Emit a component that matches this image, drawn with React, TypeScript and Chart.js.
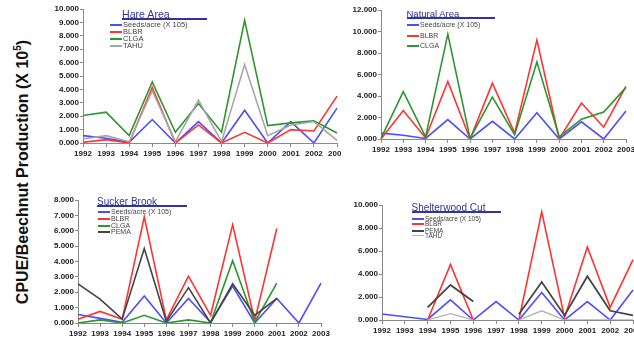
import React, { useEffect, useRef } from 'react';
import { Chart, registerables } from 'chart.js';
Chart.register(...registerables);

const years = ['1992', '1993', '1994', '1995', '1996', '1997', '1998', '1999', '2000', '2001', '2002', '2003'];

const hareSeeds = [0.55, 0.35, 0.05, 1.75, 0, 1.6, 0, 2.45, 0, 1.6, 0, 2.6];
const hareBLBR = [0.05, 0.25, 0, 4.15, 0, 1.35, 0, 0.8, 0, 1.0, 0.9, 3.5];
const hareCLGA = [2.05, 2.3, 0.55, 4.55, 0.8, 2.95, 0.8, 9.15, 1.3, 1.5, 1.65, 0.75];
const hareTAHU = [0.3, 0.55, 0.1, 3.9, 0.1, 3.2, 0.1, 5.85, 0.55, 1.35, 1.6, 0.2];

const naturalSeeds = [0.55, 0.35, 0.05, 1.8, 0, 1.65, 0, 2.45, 0, 1.6, 0, 2.6];
const naturalBLBR = [0, 2.65, 0.1, 5.35, 0, 5.2, 0.55, 9.2, 0, 3.35, 1.1, 4.9];
const naturalCLGA = [0.05, 4.4, 0.2, 9.75, 0.05, 3.9, 0.4, 7.15, 0.2, 1.85, 2.5, 4.8];

const suckerSeeds = [0.55, 0.3, 0.05, 1.75, 0, 1.6, 0.05, 2.4, 0, 1.6, 0, 2.6];
const suckerBLBR = [0.25, 0.75, 0.25, 6.9, 0.2, 3.05, 0.5, 6.4, 0.15, 6.15, null, null];
const suckerCLGA = [0, 0.2, 0, 0.5, 0, 0.2, 0, 4.05, 0.05, 2.6, null, null];
const suckerPEMA = [2.55, 1.55, 0.25, 4.85, 0.1, 2.3, 0, 2.55, 0.5, 1.6, null, null];

const shelterSeeds = [0.52, 0.28, 0.05, 1.75, 0, 1.6, 0, 2.4, 0, 1.6, 0, 2.6];
const shelterBLBR = [null, null, 0, 4.83, 0, null, 0, 9.4, 0.2, 6.35, 1.1, 5.25];
const shelterPEMA = [null, null, 1.1, 3.05, 1.6, null, 0.5, 3.3, 0.4, 3.8, 0.8, 0.4];
const shelterTAHU = [null, null, 0, 0.55, 0, null, 0, 0.8, 0, 0, 0, 0];

const yAxisTitle = 'CPUE/Beechnut Production  (X 10';

const BLUE = '#4d4dff';
const RED = '#ff3333';
const GREEN = '#2f952f';
const GRAY = '#a6a6a6';
const DARK = '#444444';
const LIGHT = '#b4b4b4';
const NAVY = '#333399';
const FONT = 'Arial, "Liberation Sans", sans-serif';

type Series = { label: string; data: (number | null)[]; color: string; width: number };

type PanelProps = {
  left: number; top: number; width: number; height: number;
  yw: number; padTop: number; xh: number; padRight: number;
  max: number; step: number; series: Series[];
  title: string; titleX: number; titleY: number; titleSize: number; ulEnd: number; ulY: number;
  legX: number; legYs: number[]; legSize: number; z: number;
};

function Panel(p: PanelProps) {
  const ref = useRef<HTMLCanvasElement | null>(null);
  useEffect(() => {
    const c = ref.current!;
    const tickFont = { family: FONT, size: 8, weight: 'bold' as const };
    const chart = new Chart(c, {
      type: 'line',
      data: {
        labels: years,
        datasets: p.series.map((s, i) => ({
          label: s.label,
          data: s.data,
          borderColor: s.color,
          backgroundColor: s.color,
          borderWidth: s.width,
          pointRadius: 0,
          tension: 0,
          fill: false,
          spanGaps: false,
          order: -i,
        })),
      },
      options: {
        animation: false,
        responsive: false,
        maintainAspectRatio: false,
        layout: { padding: { top: p.padTop, right: p.padRight, bottom: 0, left: 0 } },
        plugins: { legend: { display: false }, tooltip: { enabled: false }, title: { display: false } },
        scales: {
          x: {
            type: 'category',
            offset: false,
            grid: { display: true, drawOnChartArea: false, tickLength: 4, color: '#8a8a8a' },
            border: { display: true, color: '#8a8a8a' },
            ticks: { autoSkip: false, maxRotation: 0, minRotation: 0, padding: 2, font: tickFont, color: '#222' },
            afterFit: (s: any) => { s.height = p.xh; },
          },
          y: {
            min: 0,
            max: p.max,
            grid: { display: true, drawOnChartArea: false, tickLength: 3, color: '#8a8a8a' },
            border: { display: true, color: '#8a8a8a' },
            ticks: { stepSize: p.step, padding: 1, font: tickFont, color: '#222', callback: (v: any) => Number(v).toFixed(3) },
            afterFit: (s: any) => { s.width = p.yw; },
          },
        },
      },
    });
    return () => chart.destroy();
  }, []);
  return (
    <>
      <canvas
        ref={ref}
        width={p.width}
        height={p.height}
        style={{ position: 'absolute', left: p.left, top: p.top, width: p.width, height: p.height, background: '#fff', zIndex: p.z }}
      />
      <div style={{ position: 'absolute', left: p.titleX, top: Math.round(p.titleY - p.titleSize / 2 - 1), fontFamily: FONT, fontSize: p.titleSize, lineHeight: `${Math.round(p.titleSize + 2)}px`, color: NAVY, whiteSpace: 'nowrap', zIndex: p.z + 1 }}>
        {p.title}
      </div>
      <div style={{ position: 'absolute', left: Math.round(p.titleX), top: Math.round(p.ulY), width: Math.round(p.ulEnd - p.titleX), height: 2, background: NAVY, zIndex: p.z + 1 }} />
      {p.series.map((s, i) => (
        <React.Fragment key={s.label}>
          <div style={{ position: 'absolute', left: Math.round(p.legX), top: Math.round(p.legYs[i]) - 1, width: 12, height: s.width >= 1.5 ? 2 : 1, background: s.color, zIndex: p.z + 1 }} />
          <div style={{ position: 'absolute', left: Math.round(p.legX) + 13, top: Math.round(p.legYs[i]) - 5, height: 10, lineHeight: '10px', fontFamily: FONT, fontSize: p.legSize, color: '#444', whiteSpace: 'nowrap', zIndex: p.z + 1 }}>
            {s.label}
          </div>
        </React.Fragment>
      ))}
    </>
  );
}

export default function App() {
  return (
    <div style={{ position: 'fixed', left: 0, top: 0, width: 634, height: 341, overflow: 'hidden', background: '#fff' }}>
      <div style={{ position: 'absolute', left: 22, top: 172, transform: 'translate(-50%, -50%) rotate(-90deg)', fontFamily: FONT, fontWeight: 'bold', fontSize: 16, color: '#111', whiteSpace: 'nowrap', zIndex: 20 }}>
        {yAxisTitle}<sup style={{ fontSize: 10 }}>5</sup>)
      </div>
      <Panel
        left={40} top={0} width={320} height={165} yw={43} padTop={9} xh={22} padRight={23}
        max={10} step={1}
        series={[
          { label: 'Seeds/acre (X 105)', data: hareSeeds, color: BLUE, width: 1.6 },
          { label: 'BLBR', data: hareBLBR, color: RED, width: 1.6 },
          { label: 'CLGA', data: hareCLGA, color: GREEN, width: 1.6 },
          { label: 'TAHU', data: hareTAHU, color: GRAY, width: 1.6 },
        ]}
        title="Hare Area" titleX={122} titleY={14} titleSize={10.6} ulEnd={207} ulY={18}
        legX={110} legYs={[25, 32, 39, 46]} legSize={7.5} z={1}
      />
      <Panel
        left={341} top={0} width={310} height={165} yw={40} padTop={10} xh={26} padRight={25}
        max={12} step={2}
        series={[
          { label: 'Seeds/acre (X 105)', data: naturalSeeds, color: BLUE, width: 1.6 },
          { label: 'BLBR', data: naturalBLBR, color: RED, width: 1.6 },
          { label: 'CLGA', data: naturalCLGA, color: GREEN, width: 1.6 },
        ]}
        title="Natural Area" titleX={406.5} titleY={14} titleSize={9.5} ulEnd={494} ulY={17}
        legX={407} legYs={[25, 36, 46]} legSize={7} z={5}
      />
      <Panel
        left={40} top={170} width={295} height={171} yw={38} padTop={30} xh={18} padRight={14}
        max={8} step={1}
        series={[
          { label: 'Seeds/acre (X 105)', data: suckerSeeds, color: BLUE, width: 1.6 },
          { label: 'BLBR', data: suckerBLBR, color: RED, width: 1.6 },
          { label: 'CLGA', data: suckerCLGA, color: GREEN, width: 1.6 },
          { label: 'PEMA', data: suckerPEMA, color: DARK, width: 1.6 },
        ]}
        title="Sucker Brook" titleX={97} titleY={201.5} titleSize={10} ulEnd={187} ulY={205}
        legX={98} legYs={[212, 219, 226, 232]} legSize={7} z={9}
      />
      <Panel
        left={335} top={170} width={320} height={171} yw={47} padTop={35} xh={21} padRight={22}
        max={10} step={1}
        series={[
          { label: 'Seeds/acre (X 105)', data: shelterSeeds, color: BLUE, width: 1.6 },
          { label: 'BLBR', data: shelterBLBR, color: RED, width: 1.6 },
          { label: 'PEMA', data: shelterPEMA, color: DARK, width: 1.8 },
          { label: 'TAHU', data: shelterTAHU, color: LIGHT, width: 1.3 },
        ]}
        title="Shelterwood Cut" titleX={411.5} titleY={207.5} titleSize={10} ulEnd={500} ulY={211}
        legX={412} legYs={[219, 224, 231, 236]} legSize={6.5} z={13}
      />
    </div>
  );
}
